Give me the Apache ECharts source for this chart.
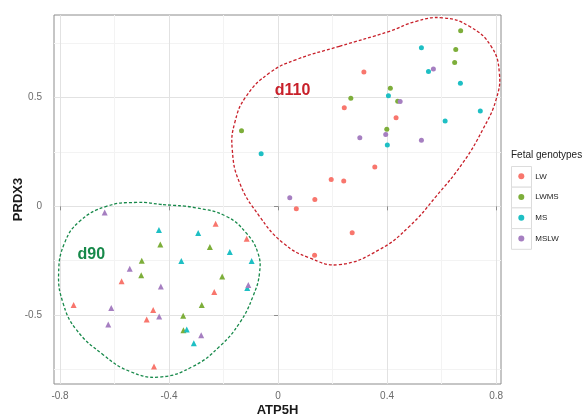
<!DOCTYPE html>
<html>
<head>
<meta charset="utf-8">
<script src="https://cdn.jsdelivr.net/npm/echarts@6/dist/echarts.min.js"></script>
<style>html,body{margin:0;padding:0;background:#fff;}#c{width:586px;height:419px;}</style>
</head>
<body>
<div id="c"></div>
<script>
// ---- data (ATP5H, PRDX3) ----
const genotypes = ['LW', 'LWMS', 'MS', 'MSLW'];
const xTicks = [-0.8, -0.4, 0, 0.4, 0.8];
const yTicks = [-0.5, 0, 0.5];

// d110 (circles)
const d110_LW = [[0.315,0.618],[0.243,0.453],[0.433,0.408],[0.355,0.181],[0.195,0.123],[0.241,0.117],[0.135,0.031],[0.067,-0.011],[0.272,-0.121],[0.134,-0.225]];
const d110_LWMS = [[0.670,0.807],[0.652,0.721],[0.648,0.661],[0.412,0.543],[0.267,0.497],[0.439,0.483],[0.399,0.354],[-0.134,0.348]];
const d110_MS = [[0.526,0.729],[0.552,0.620],[0.669,0.566],[0.405,0.509],[0.742,0.439],[0.613,0.393],[0.401,0.282],[-0.062,0.242]];
const d110_MSLW = [[0.570,0.632],[0.448,0.482],[0.300,0.315],[0.395,0.330],[0.526,0.304],[0.043,0.039]];

// d90 (triangles)
const d90_LW = [[-0.229,-0.080],[-0.115,-0.149],[-0.574,-0.345],[-0.234,-0.394],[-0.750,-0.454],[-0.458,-0.477],[-0.482,-0.520],[-0.455,-0.736]];
const d90_LWMS = [[-0.432,-0.176],[-0.250,-0.187],[-0.500,-0.250],[-0.502,-0.317],[-0.205,-0.323],[-0.280,-0.454],[-0.348,-0.503],[-0.347,-0.570]];
const d90_MS = [[-0.437,-0.109],[-0.293,-0.122],[-0.177,-0.210],[-0.355,-0.251],[-0.097,-0.251],[-0.113,-0.375],[-0.335,-0.566],[-0.309,-0.630]];
const d90_MSLW = [[-0.636,-0.028],[-0.544,-0.287],[-0.430,-0.369],[-0.109,-0.362],[-0.612,-0.467],[-0.436,-0.506],[-0.623,-0.543],[-0.282,-0.593]];

// hull outlines (data coordinates, closed loops)
const hull_d110 = [[0.225,0.736],[0.409,0.805],[0.507,0.851],[0.604,0.867],[0.702,0.828],[0.782,0.736],[0.812,0.614],[0.800,0.491],[0.751,0.353],[0.678,0.200],[0.580,0.046],[0.482,-0.092],[0.372,-0.199],[0.225,-0.268],[0.115,-0.237],[0.018,-0.168],[-0.068,-0.046],[-0.141,0.108],[-0.168,0.261],[-0.159,0.384],[-0.117,0.506],[-0.031,0.614],[0.067,0.675]];
const hull_d90 = [[-0.422,0.008],[-0.300,-0.007],[-0.190,-0.046],[-0.117,-0.122],[-0.074,-0.214],[-0.068,-0.306],[-0.092,-0.414],[-0.141,-0.536],[-0.214,-0.644],[-0.312,-0.736],[-0.434,-0.785],[-0.544,-0.759],[-0.642,-0.682],[-0.740,-0.567],[-0.789,-0.444],[-0.805,-0.306],[-0.783,-0.168],[-0.728,-0.069],[-0.630,0.000],[-0.520,0.018]];

// group label positions
const groupLabels = [{name:'d110', value:[0.053,0.534]}, {name:'d90', value:[-0.685,-0.224]}];

// ---- styling ----
const colors = {LW:'#F8766D', LWMS:'#7DAE3A', MS:'#1EBFC4', MSLW:'#A67FC1'};
const groupColors = {d110:'#C8202A', d90:'#17894A'};
const FONT = 'Liberation Sans, Arial, Helvetica, sans-serif';

const chart = echarts.init(document.getElementById('c'), null, {renderer:'canvas'});

function pts(name, data, symbol, size) {
  return {
    type:'scatter', name:name, data:data, symbol:symbol, symbolSize:size,
    itemStyle:{color:colors[name], opacity:1}, z:5, silent:true
  };
}
function hull(outline, color) {
  return {
    type:'custom', coordinateSystem:'cartesian2d', silent:true, z:3, clip:false,
    data:[outline[0]],
    renderItem:(params, api)=>({
      type:'polygon',
      shape:{points:outline.map(p=>api.coord(p)), smooth:0.45, smoothConstraint:false},
      style:{fill:'none', stroke:color, lineWidth:1.3, lineDash:[3,2]}
    })
  };
}

const legendBoxes = genotypes.map((g,i)=>({
  type:'rect', left:511, top:166 + i*20.7, z:0,
  shape:{width:20, height:20.7},
  style:{fill:'#fff', stroke:'#dcdcdc', lineWidth:1}
}));

const option = {
  animation:false,
  backgroundColor:'#fff',
  textStyle:{fontFamily:FONT},
  title:{
    text:'Fetal genotypes', left:511, top:150, padding:0,
    textStyle:{fontSize:10, fontWeight:'normal', color:'#222', fontFamily:FONT}
  },
  legend:{
    data:genotypes, orient:'vertical', left:518.3, top:170.3, padding:0,
    itemWidth:6, itemHeight:6, itemGap:8.7, icon:'circle',
    textStyle:{fontSize:8, color:'#222', lineHeight:12, fontFamily:FONT, padding:[0,0,0,6]},
    selectedMode:false
  },
  graphic:legendBoxes,
  grid:{left:54, top:15, width:447, height:369, show:true, borderColor:'#8c8c8c', borderWidth:1,
    backgroundColor:'#fff', containLabel:false, outerBoundsMode:'none'},
  xAxis:{
    type:'value', min:-0.822, max:0.818, minInterval:0.4, maxInterval:0.4,
    name:'ATP5H', nameLocation:'middle', nameGap:20, nameMoveOverlap:false,
    nameTextStyle:{fontSize:13, fontWeight:'bold', color:'#1a1a1a', fontFamily:FONT},
    axisLine:{show:false},
    axisTick:{show:true, length:4, lineStyle:{color:'#8c8c8c'}, customValues:xTicks},
    axisLabel:{fontSize:10, color:'#6b6b6b', margin:7, customValues:xTicks, fontFamily:FONT},
    splitLine:{show:true, lineStyle:{color:'#e2e2e2', width:1}},
    minorTick:{show:false, splitNumber:2},
    minorSplitLine:{show:true, lineStyle:{color:'#f3f3f3', width:1}}
  },
  yAxis:{
    type:'value', min:-0.817, max:0.880, minInterval:0.5, maxInterval:0.5,
    name:'PRDX3', nameLocation:'middle', nameGap:29, nameRotate:90, nameMoveOverlap:false,
    nameTextStyle:{fontSize:13, fontWeight:'bold', color:'#1a1a1a', fontFamily:FONT},
    axisLine:{show:false},
    axisTick:{show:true, length:4, lineStyle:{color:'#8c8c8c'}, customValues:yTicks},
    axisLabel:{fontSize:10, color:'#6b6b6b', margin:12, customValues:yTicks, fontFamily:FONT},
    splitLine:{show:true, lineStyle:{color:'#e2e2e2', width:1}},
    minorTick:{show:false, splitNumber:2},
    minorSplitLine:{show:true, lineStyle:{color:'#f3f3f3', width:1}}
  },
  series:[
    hull(hull_d110, groupColors.d110),
    hull(hull_d90, groupColors.d90),
    pts('LW', d110_LW, 'circle', 5),
    pts('LWMS', d110_LWMS, 'circle', 5),
    pts('MS', d110_MS, 'circle', 5),
    pts('MSLW', d110_MSLW, 'circle', 5),
    pts('LW', d90_LW, 'triangle', 6),
    pts('LWMS', d90_LWMS, 'triangle', 6),
    pts('MS', d90_MS, 'triangle', 6),
    pts('MSLW', d90_MSLW, 'triangle', 6),
    {
      type:'scatter', symbolSize:0, silent:true, z:6,
      data:groupLabels.map(g=>({name:g.name, value:g.value, label:{color:groupColors[g.name]}})),
      label:{show:true, position:'inside', formatter:p=>p.name, fontSize:16, fontWeight:'bold', fontFamily:FONT,
        textBorderWidth:0, textBorderColor:'transparent', opacity:1}
    }
  ]
};
chart.setOption(option);
</script>
</body>
</html>
